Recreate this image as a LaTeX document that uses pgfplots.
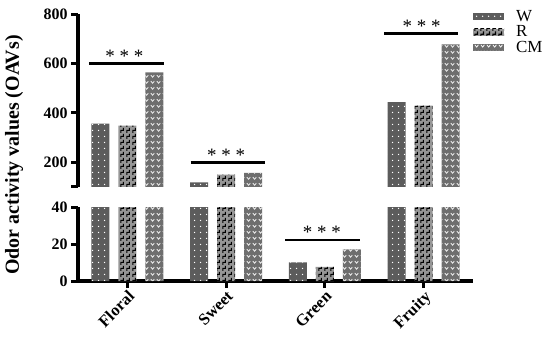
\documentclass[border=0pt]{standalone}
\usepackage{pgfplots}
\pgfplotsset{compat=1.18}
\usepackage{fontspec}
\setmainfont{Liberation Serif}
\usetikzlibrary{patterns}

\pgfdeclarepatternformonly{wdots}{\pgfqpoint{0bp}{0bp}}{\pgfqpoint{6bp}{6bp}}{\pgfqpoint{6bp}{6bp}}{%
  \pgfpathcircle{\pgfqpoint{3bp}{3bp}}{0.8bp}\pgfusepath{fill}}
\pgfdeclarepatternformonly{rstep}{\pgfqpoint{0bp}{0bp}}{\pgfqpoint{6bp}{6bp}}{\pgfqpoint{6bp}{6bp}}{%
  \pgfsetlinewidth{1.3bp}%
  \pgfpathmoveto{\pgfqpoint{1bp}{0bp}}\pgfpathlineto{\pgfqpoint{1bp}{3bp}}%
  \pgfpathlineto{\pgfqpoint{4bp}{3bp}}\pgfpathlineto{\pgfqpoint{4bp}{6bp}}%
  \pgfusepath{stroke}}
\pgfdeclarepatternformonly{cmv}{\pgfqpoint{0bp}{0bp}}{\pgfqpoint{6bp}{6bp}}{\pgfqpoint{6bp}{6bp}}{%
  \pgfsetlinewidth{0.8bp}%
  \pgfpathmoveto{\pgfqpoint{1bp}{4.5bp}}\pgfpathlineto{\pgfqpoint{3bp}{2bp}}%
  \pgfpathlineto{\pgfqpoint{5bp}{4.5bp}}\pgfusepath{stroke}}

\definecolor{wcol}{RGB}{92,92,92}
\definecolor{rcol}{RGB}{150,150,150}
\definecolor{cmcol}{RGB}{110,110,110}

\pgfplotsset{
  myleg/.style={legend image code/.code={\path[##1] (0bp,-3.5bp) rectangle (31bp,3.5bp);}},
  Wst/.style={fill=wcol, draw=none, postaction={pattern=wdots, pattern color=white}, myleg},
  Rst/.style={fill=rcol, draw=none, postaction={pattern=rstep, pattern color=black}, myleg},
  CMst/.style={fill=cmcol, draw=none, postaction={pattern=cmv, pattern color=white}, myleg},
  common/.style={
    scale only axis, width=395bp,
    xmin=-0.5, xmax=3.5,
    ybar, bar width=18bp,
    axis line style={line width=3.2bp},
    tick style={line width=3bp, black},
    major tick style={line width=3bp, black},
    tick align=outside, major tick length=7bp,
    /pgf/number format/assume math mode=true,
    tick label style={font=\bfseries\fontsize{16}{16}\selectfont},
    ytick pos=left,
  },
}

\pgfplotstableread{
x  W     R     CM
0  356   348   564
1  119   150   157
2  10.1  7.7   17.1
3  443   429   677
}\oavdata

\begin{document}
\begin{tikzpicture}
% lower axis
\begin{axis}[common, name=low, at={(0,0)}, anchor=south west,
  height=74bp, ymin=0, ymax=40, ytick={0,20,40},
  axis y line*=left, axis x line*=bottom,
  xtick={0,1,2,3}, xticklabels={Floral,Sweet,Green,Fruity},
  xticklabel style={rotate=45, anchor=north east, inner sep=1bp, font=\bfseries\fontsize{16.5}{16.5}\selectfont},
  ]
  \addplot[Wst, bar shift=-27bp] table[x=x,y=W] {\oavdata};
  \addplot[Rst, bar shift=0bp] table[x=x,y=R] {\oavdata};
  \addplot[CMst, bar shift=27bp] table[x=x,y=CM] {\oavdata};
  \draw[line width=2.8bp] (axis cs:1.6,22.2) -- (axis cs:2.36,22.2);
  \node[anchor=south, inner sep=1bp, font=\fontsize{19}{19}\selectfont] at (axis cs:1.97,22.2) {* * *};
\end{axis}
% upper axis
\begin{axis}[common, name=up, at={(0,94bp)}, anchor=south west,
  height=173bp, ymin=100, ymax=800, ytick={100,200,400,600,800},
  yticklabels={,200,400,600,800},
  restrict y to domain=100:2000,
  axis y line*=left, axis x line=none, xtick=\empty,
  legend style={at={(rel axis cs:1,1)}, anchor=north west, draw=none, fill=none,
    xshift=0bp, yshift=5bp, font=\fontsize{17}{17}\selectfont,
    row sep=1bp, column sep=10bp, inner sep=0pt, nodes={inner xsep=2bp, inner ysep=1bp}},
  legend cell align=left,
  ]
  \addplot[Wst, bar shift=-27bp] table[x=x,y=W] {\oavdata};
  \addplot[Rst, bar shift=0bp] table[x=x,y=R] {\oavdata};
  \addplot[CMst, bar shift=27bp] table[x=x,y=CM] {\oavdata};
  \legend{W,R,CM}
  \draw[line width=2.8bp] (axis cs:-0.39,600) -- (axis cs:0.37,600);
  \node[anchor=south, inner sep=1bp, font=\fontsize{19}{19}\selectfont] at (axis cs:-0.03,600) {* * *};
  \draw[line width=2.8bp] (axis cs:0.64,200) -- (axis cs:1.39,200);
  \node[anchor=south, inner sep=1bp, font=\fontsize{19}{19}\selectfont] at (axis cs:1.0,200) {* * *};
  \draw[line width=2.8bp] (axis cs:2.6,721) -- (axis cs:3.35,721);
  \node[anchor=south, inner sep=1bp, font=\fontsize{19}{19}\selectfont] at (axis cs:2.98,721) {* * *};
\end{axis}
\node[rotate=90, font=\bfseries\fontsize{20}{20}\selectfont] at (-64bp,126bp) {Odor activity values (OAVs)};
\pgfresetboundingbox
\path (-78bp,-62bp) rectangle (472bp,281bp);
\end{tikzpicture}
\end{document}
